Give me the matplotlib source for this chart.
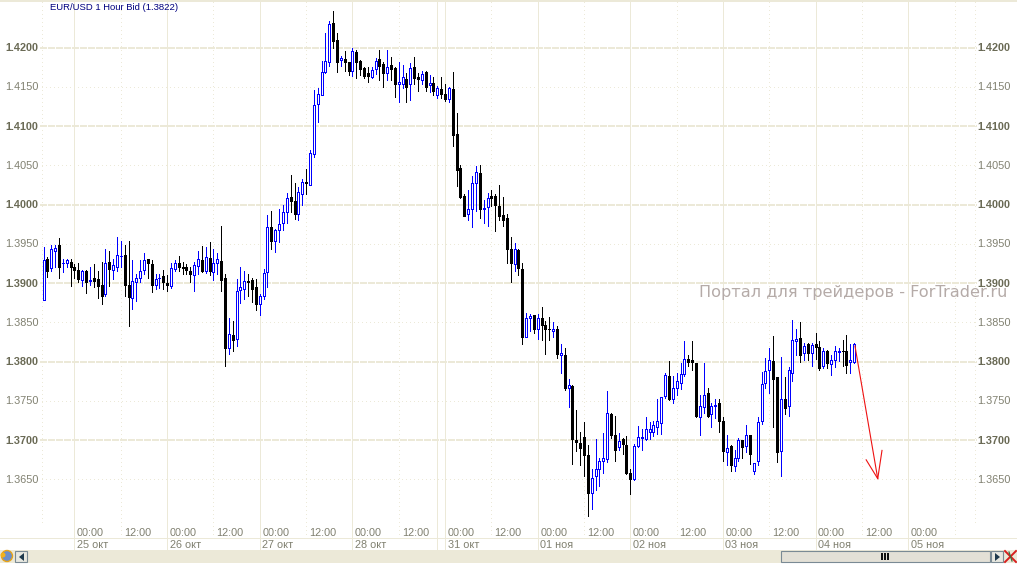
import numpy as np
import matplotlib
matplotlib.use("Agg")
import matplotlib.pyplot as plt
from matplotlib.patches import Rectangle, Circle, Polygon

# Prices are stored as price x 10000 (one unit = one pip)
opens = [
13878,13931,13919,13941,13948,13925,13926,13927,13921,13917,
13904,13915,13903,13907,13905,13898,13886,13927,13917,13921,
13934,13936,13898,13881,13901,13907,13917,13931,13924,13897,
13906,13909,13900,13896,13918,13926,13921,13921,13916,13910,
13922,13929,13915,13932,13914,13926,13928,13906,13818,13834,
13829,13891,13892,13903,13904,13895,13874,13883,13914,13971,
13953,13968,13976,13990,14010,14004,13988,14014,14029,14025,
14064,14128,14139,14169,14181,14231,14209,14184,14185,14181,
14170,14194,14183,14174,14168,14163,14173,14185,14179,14167,
14178,14174,14153,14154,14160,14153,14175,14163,14159,14169,
14152,14155,14139,14147,14141,14134,14147,14090,14046,14011,
13988,13995,14027,14040,13995,13997,14011,14011,13998,13987,
13983,13944,13924,13942,13918,13832,13856,13860,13841,13856,
13847,13842,13839,13841,13809,13809,13767,13769,13700,13697,
13704,13681,13633,13654,13663,13673,13676,13733,13707,13691,
13702,13694,13658,13650,13692,13703,13702,13711,13711,13717,
13722,13756,13782,13752,13766,13773,13784,13803,13802,13798,
13730,13742,13760,13733,13744,13747,13724,13685,13692,13667,
13677,13700,13693,13706,13661,13673,13724,13773,13789,13801,
13780,13686,13753,13743,13786,13826,13830,13811,13822,13811,
13823,13819,13794,13814,13797,13802,13812,13814,13814,13799,13799]
closes = [
13929,13916,13944,13945,13921,13926,13929,13920,13917,13905,
13916,13901,13904,13903,13896,13884,13926,13918,13923,13936,
13935,13897,13882,13903,13907,13915,13929,13925,13898,13905,
13907,13901,13897,13919,13926,13920,13919,13917,13911,13923,
13931,13916,13933,13916,13926,13931,13904,13817,13835,13827,
13890,13895,13903,13902,13892,13873,13884,13913,13972,13954,
13967,13975,13990,14009,14004,13988,14016,14029,14027,14066,
14127,14141,14169,14183,14230,14208,14182,14187,14181,14170,
14195,14181,14172,14164,14164,14171,14183,14177,14168,14175,
14172,14154,14156,14162,14150,14174,14161,14160,14166,14150,
14155,14145,14148,14141,14135,14148,14089,14044,14010,13986,
13995,14028,14041,13994,13996,14009,14009,13999,13986,13981,
13944,13925,13943,13919,13832,13856,13858,13841,13856,13847,
13842,13841,13842,13810,13811,13766,13770,13701,13698,13690,
13681,13633,13652,13663,13673,13677,13734,13707,13688,13699,
13695,13658,13651,13692,13704,13704,13714,13714,13719,13724,
13755,13783,13752,13766,13775,13784,13804,13799,13799,13731,
13743,13758,13731,13744,13745,13724,13686,13690,13668,13677,
13700,13691,13706,13683,13671,13723,13772,13788,13802,13778,
13685,13753,13741,13789,13828,13829,13809,13820,13811,13821,
13819,13792,13814,13798,13802,13813,13813,13813,13796,13802,13822]
highs = [
13946,13933,13949,13948,13957,13931,13931,13931,13924,13926,
13917,13917,13921,13924,13915,13927,13944,13941,13931,13959,
13954,13949,13953,13929,13912,13929,13938,13931,13929,13912,
13912,13917,13910,13926,13929,13935,13927,13924,13921,13927,
13941,13947,13946,13952,13944,13938,13973,13911,13855,13852,
13905,13920,13915,13912,13907,13905,13886,13918,13987,13992,
13969,13994,13999,14015,14038,14028,14022,14033,14045,14069,
14146,14148,14183,14218,14234,14247,14218,14189,14196,14182,
14200,14197,14184,14175,14175,14175,14186,14197,14182,14197,
14188,14175,14182,14178,14168,14180,14188,14168,14170,14170,
14165,14162,14151,14163,14153,14150,14169,14117,14050,14014,
14019,14036,14049,14051,14006,14015,14019,14013,14025,14010,
13988,13959,13951,13944,13925,13862,13861,13860,13861,13869,
13852,13857,13850,13845,13822,13817,13778,13770,13739,13710,
13723,13694,13663,13702,13677,13709,13763,13734,13731,13709,
13703,13705,13663,13695,13718,13714,13730,13723,13725,13752,
13755,13786,13801,13782,13786,13798,13826,13808,13826,13798,
13757,13798,13766,13748,13753,13753,13730,13707,13694,13687,
13703,13700,13719,13706,13671,13730,13787,13805,13817,13833,
13781,13806,13781,13793,13853,13841,13851,13824,13824,13824,
13836,13826,13817,13815,13809,13820,13817,13827,13834,13823,13824]
lows = [
13878,13908,13915,13921,13907,13914,13920,13896,13906,13901,
13896,13887,13898,13895,13881,13873,13883,13896,13905,13916,
13920,13884,13845,13867,13877,13901,13912,13906,13889,13892,
13894,13893,13890,13894,13915,13915,13912,13911,13902,13890,
13911,13914,13913,13910,13904,13911,13890,13794,13810,13813,
13820,13875,13880,13883,13876,13866,13860,13880,13895,13943,
13939,13952,13967,13976,13990,13982,13981,13999,14013,14025,
14061,14105,14139,14168,14177,14200,14169,14177,14170,14165,
14164,14161,14165,14161,14156,14161,14166,14158,14150,14159,
14158,14137,14131,14149,14131,14133,14153,14145,14153,14145,
14143,14140,14136,14136,14132,14131,14074,14024,14009,13985,
13980,13971,13992,13983,13977,13973,13998,13966,13980,13973,
13926,13901,13916,13910,13823,13831,13839,13836,13829,13827,
13810,13827,13831,13805,13786,13764,13742,13670,13686,13668,
13655,13603,13612,13636,13642,13658,13672,13703,13673,13687,
13683,13657,13632,13649,13691,13688,13700,13701,13705,13708,
13708,13754,13751,13747,13758,13765,13782,13795,13790,13729,
13707,13734,13729,13717,13728,13710,13674,13668,13661,13661,
13673,13677,13685,13670,13657,13669,13720,13766,13760,13717,
13672,13655,13733,13731,13776,13808,13800,13802,13802,13794,
13803,13789,13792,13792,13783,13793,13801,13795,13785,13785,13798]

major_levels = [1.3700,1.3800,1.3900,1.4000,1.4100,1.4200]
minor_levels = [1.3650,1.3750,1.3850,1.3950,1.4050,1.4150]
day_hours = [8,32,56,80,104,128,152,176,200,224]
day_labels = ["25 окт","26 окт","27 окт","28 окт","31 окт","01 ноя","02 ноя","03 ноя","04 ноя","05 ноя"]
session_break_hours = [102]
noon_hours = [20,44,68,92,116,140,164,188,212]
extra_noon_hours = [236]
arrow_shaft_x = [210.2,216.1]; arrow_shaft_y = [1.3820,1.3651]
arrow_head_x = [213.1,216.1,217.2]; arrow_head_y = [1.3675,1.3651,1.3687]
title = "EUR/USD 1 Hour Bid (1.3822)"
watermark = "Портал для трейдеров - ForTrader.ru"

W, H = 1017, 564
BEIGE = "#ECE9D8"; LABEL = "#808070"; LABEL_B = "#6A6A55"; BLUE = "#0000FF"
SX = 3.86; X0 = 44.1

o = np.array(opens)/1e4; c = np.array(closes)/1e4
h = np.array(highs)/1e4; l = np.array(lows)/1e4
xs = np.arange(len(o))
up = c > o

fig = plt.figure(figsize=(W/100, H/100), dpi=100, facecolor="white")
ax = fig.add_axes([0, 0, 1, 1])
ax.set_axis_off()
ax.set_xlim((0.5-X0)/SX, (W+0.5-X0)/SX)
ytop = 1.42 + (47.5)/7854.0
ax.set_ylim(ytop-(H)/7854.0, ytop)
lw1 = 0.72

hpx = lambda px: (px-X0)/SX
# grid
ax.hlines(major_levels, hpx(40), hpx(977), color=BEIGE, lw=1.44, linestyles=[(0,(3,1))], zorder=1, antialiased=False)
ax.hlines(minor_levels, hpx(42), hpx(975), color=BEIGE, lw=lw1, linestyles=[(0,(1,3))], zorder=1, antialiased=False)
yb_day = 1-550/H; yb_noon = 1-538/H; yb_edge = 1-522/H
xt = ax.get_xaxis_transform()
ax.vlines(day_hours+session_break_hours, yb_day, 1, transform=xt, color=BEIGE, lw=lw1, zorder=1, antialiased=False)
ax.vlines(noon_hours+extra_noon_hours, yb_noon, 1, transform=xt, color=BEIGE, lw=lw1, linestyles=[(0,(1,3))], zorder=1, antialiased=False)
ax.vlines([hpx(42), hpx(975)], yb_edge, 1, transform=xt, color=BEIGE, lw=lw1, linestyles=[(0,(1,3))], zorder=1, antialiased=False)

# candles
ax.vlines(xs[up], l[up], h[up], color=BLUE, lw=lw1, zorder=3, antialiased=False)
ax.vlines(xs[~up], l[~up], h[~up], color="black", lw=lw1, zorder=3, antialiased=False)
bw = 2.0/SX
ax.bar(xs[up], (c-o)[up], bottom=o[up], width=bw, facecolor="white", edgecolor=BLUE, lw=lw1, zorder=4, antialiased=False)
ax.bar(xs[~up], (o-c)[~up], bottom=c[~up], width=bw, facecolor="black", edgecolor="black", lw=lw1, zorder=4, antialiased=False)

# red arrow
ax.plot(arrow_shaft_x, arrow_shaft_y, color="#EE1111", lw=0.8, zorder=5)
ax.plot(arrow_head_x, arrow_head_y, color="#EE1111", lw=0.8, zorder=5)

# y labels
yt = ax.get_yaxis_transform()
for levels, weight, col in [(major_levels, "bold", LABEL_B), (minor_levels, "normal", LABEL)]:
    for p in levels:
        for xp in (5.5, 977):
            ax.text(xp/W, p-0.00006, f"{p:.4f}", transform=yt, ha="left", va="center", family="Liberation Sans",
                    weight=weight, fontsize=7.8, color=col, zorder=6)

# chrome
cx = fig.add_axes([0, 0, 1, 1], zorder=2)
cx.set_axis_off(); cx.set_xlim(0, W); cx.set_ylim(H, 0); cx.patch.set_alpha(0)
cx.add_patch(Rectangle((0, 0), W, 2, color=BEIGE, lw=0))
cx.add_patch(Rectangle((0, 538), W, 1, color=BEIGE, lw=0))
cx.add_patch(Rectangle((0, 550), W, 13, color=BEIGE, lw=0))
# buttons
for bx, pts in [(15, [(24,553),(24,561),(19,557)]), (991, [(995,553),(995,561),(1000,557)])]:
    cx.add_patch(Rectangle((bx, 551), 12, 11, fc="#E8E8E0", ec="#7A8A94", lw=0.8))
    cx.add_patch(Polygon(pts, fc="#1F3A4D", lw=0))
# scrollbar thumb
cx.add_patch(Rectangle((781, 551), 209, 11, fc="#E3E0D6", ec="#7A8A94", lw=0.8))
for gx in (881, 884, 887):
    cx.add_patch(Rectangle((gx, 553), 2, 7, color="#111111", lw=0))
# globe icon
cx.add_patch(Circle((7, 556), 5.5, fc="#6C8FC8", ec="#E8A317", lw=1.0))
cx.add_patch(Circle((3, 555), 2.5, fc="#F2B21B", lw=0))
# close icon
cx.plot([1005,1016],[551,562], color="#D81E1E", lw=1.4)
cx.plot([1016,1005],[551,562], color="#D81E1E", lw=1.4)
cx.plot([1009,1012],[552,561], color="#3E6E3E", lw=0.9)

# x labels
for hr, lab in zip(day_hours, day_labels):
    px = X0 + SX*hr
    cx.text(px+2, 532.6, "00:00", ha="left", va="center", family="Liberation Sans", fontsize=7.8, color=LABEL)
    cx.text(px+2, 545.4, lab, ha="left", va="center", family="Liberation Sans", fontsize=7.8, color=LABEL)
for hr in noon_hours:
    px = X0 + SX*hr
    cx.text(px+2.5, 532.6, "12:00", ha="left", va="center", family="Liberation Sans", fontsize=7.8, color=LABEL)

cx.text(49.5, 7.5, title, ha="left", va="center", family="Liberation Sans", fontsize=6.8, color="#000080")
cx.text(699, 292, watermark, ha="left", va="center", family="DejaVu Sans", fontsize=11.65, color="#B5ABA8")

fig.savefig("out.png", dpi=100, facecolor="white")
